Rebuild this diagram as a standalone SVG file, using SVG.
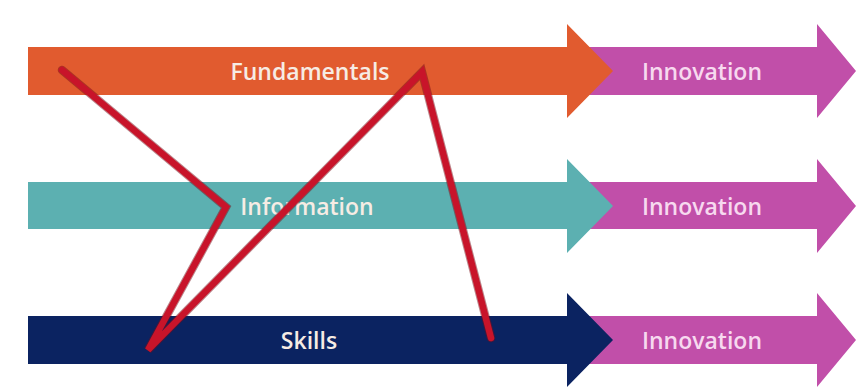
<svg xmlns="http://www.w3.org/2000/svg" width="857" height="391" viewBox="0 0 857 391">
<style>
.lbl{font-family:"Open Sans","Liberation Sans",sans-serif;font-size:23px;font-weight:600;text-anchor:middle;fill:#f6ece4}
.inn{fill:#f7d9ef}
.purple{fill:#c14fa9}
.red{fill:none;stroke:#c8142a;stroke-width:6.5;stroke-linejoin:miter;stroke-linecap:round}
.redsh{fill:none;stroke:#7a0d18;stroke-width:8.5;stroke-linejoin:miter;stroke-linecap:round;opacity:0.5}
</style>
<rect width="857" height="391" fill="#ffffff"/>
<g id="innovation1">
<polygon class="purple" points="575,47 817,47 817,24 856,71 817,118 817,95 575,95"/>
<text class="lbl inn" x="702" y="80">Innovation</text>
</g>
<g id="innovation2">
<polygon class="purple" points="575,182 817,182 817,159 856,206 817,253 817,229 575,229"/>
<text class="lbl inn" x="702" y="215">Innovation</text>
</g>
<g id="innovation3">
<polygon class="purple" points="575,316 817,316 817,293 856,340 817,387 817,364 575,364"/>
<text class="lbl inn" x="702" y="349">Innovation</text>
</g>
<g id="fundamentals">
<polygon fill="#e15b2f" points="28,47 567,47 567,24 613,71 567,118 567,95 28,95"/>
<text class="lbl" x="310" y="80">Fundamentals</text>
</g>
<g id="information">
<polygon fill="#5cb0b1" points="28,182 567,182 567,159 613,206 567,253 567,229 28,229"/>
<text class="lbl" x="307" y="215">Information</text>
</g>
<g id="skills">
<polygon fill="#0b2361" points="28,316 567,316 567,293 613,340 567,387 567,364 28,364"/>
<text class="lbl" x="309" y="349">Skills</text>
</g>
<g id="connectors">
<polyline class="redsh" points="62,70 226,207 148,350 422,72 491,338"/>
<polyline class="red" points="62,70 226,207 148,350 422,72 491,338"/>
</g>
</svg>
